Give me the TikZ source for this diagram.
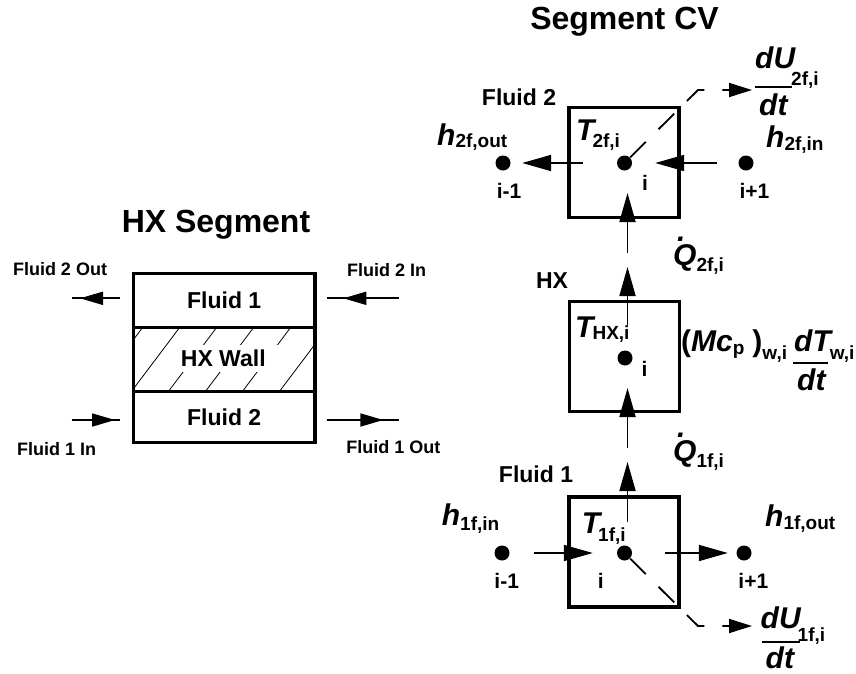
\documentclass[tikz,border=0pt]{standalone}
\usepackage{fontspec}
\setmainfont{Liberation Sans}
\usetikzlibrary{arrows.meta,calc}
\newcommand\mfont{\fontsize{30}{30}\selectfont\bfseries\itshape}
\newcommand\sbx[2]{\raisebox{-#1pt}{\fontsize{19}{19}\selectfont\bfseries\upshape #2}}
\newcommand\mvar[3][5]{{\mfont #2}\sbx{#1}{#3}}
\newcommand\qdot{\rlap{\kern4pt\raisebox{24pt}{.}}Q}
\begin{document}
\begin{tikzpicture}[x=1pt,y=-1pt,
  cvbox/.style={draw, line width=3.3pt, minimum width=110pt, minimum height=110pt, inner sep=0pt},
  hxbox/.style={draw, line width=3.3pt, minimum width=181.7pt, inner sep=0pt, font=\fontsize{23}{23}\selectfont\bfseries},
  dotn/.style={circle, fill=black, inner sep=0pt, minimum size=15pt},
  conn/.style={line width=1.8pt},
  arr/.style={conn, -{Triangle[length=29pt,width=16pt]}},
  larr/.style={conn, -{Triangle[length=23pt,width=13pt]}},
  darr/.style={conn, dash pattern=on 22pt off 18pt, dash phase=32pt, -{Triangle[length=23pt,width=14pt]}},
  hatch/.style={line width=0.8pt},
  fbar/.style={line width=1.8pt},
  lbl/.style={inner sep=0pt, font=\fontsize{23}{23}\selectfont\bfseries},
  slbl/.style={inner sep=0pt, font=\fontsize{18}{18}\selectfont\bfseries},
  ilbl/.style={inner sep=0pt, anchor=base, font=\fontsize{21}{21}\selectfont\bfseries},
  ttl/.style={inner sep=0pt, anchor=base, font=\fontsize{32}{32}\selectfont\bfseries},
  mlbl/.style={inner sep=0pt, anchor=base west}]
\useasboundingbox (0,0) rectangle (856,673);

% ---------------- HX Segment (left) ----------------
\node[ttl] (t1) at (216,232) {HX Segment};
\node[hxbox, minimum height=54pt] (lf1) at (224.2,300.3) {Fluid 1};
\node[hxbox, minimum height=64.4pt] (wall) at (224.2,359.5) {};
\node[hxbox, minimum height=51pt] (lf2) at (224.2,417.2) {Fluid 2};
\begin{scope}
  \clip ([shift={(1.65pt,1.65pt)}]wall.south west) rectangle ([shift={(-1.65pt,-1.65pt)}]wall.north east);
  \foreach \t in {106,143,...,365} \draw[hatch] (\t,327) -- ++(-49,65);
\end{scope}
\node[lbl, fill=white, inner xsep=12pt, inner ysep=5pt, anchor=base] (walltxt) at (223.3,366.7) {HX Wall};

\coordinate (tl1) at (120,298.3);  \coordinate (tl2) at (71.7,298.3);  \coordinate (tl3) at (80,298.3);
\coordinate (tr1) at (326.7,298.3);\coordinate (tr2) at (399,298.3);   \coordinate (tr3) at (343.3,298.3);
\coordinate (bl1) at (71.7,420);   \coordinate (bl2) at (120,420);     \coordinate (bl3) at (115,420);
\coordinate (br1) at (326.7,420);  \coordinate (br2) at (399,420);     \coordinate (br3) at (383.3,420);
\draw[conn] (tl1) -- (tl2); \draw[larr] (tl1) -- (tl3);
\draw[conn] (tr1) -- (tr2); \draw[larr] (tr2) -- (tr3);
\draw[conn] (bl1) -- (bl2); \draw[larr] (bl1) -- (bl3);
\draw[conn] (br1) -- (br2); \draw[larr] (br1) -- (br3);

\node[slbl, anchor=base] (f2out) at (60,275) {Fluid 2 Out};
\node[slbl, anchor=base] (f2in) at (386.7,276.7) {Fluid 2 In};
\node[slbl, anchor=base] (f1in) at (56.7,455) {Fluid 1 In};
\node[slbl, anchor=base] (f1out) at (393.3,453.3) {Fluid 1 Out};

% ---------------- Segment CV (right) ----------------
\node[ttl] (t2) at (624.5,29.5) {Segment CV};

\node[cvbox] (B2) at (624,162.5) {};
\node[cvbox] (BH) at (624.5,356.5) {};
\node[cvbox] (B1) at (624,552) {};

\node[dotn] (c2) at (624.5,163) {};
\node[dotn] (l2) at (503,163) {};
\node[dotn] (r2) at (746,163) {};
\node[dotn] (ch) at (625,358) {};
\node[dotn] (c1) at (624.5,553) {};
\node[dotn] (l1) at (502,553) {};
\node[dotn] (r1) at (744,553) {};

% horizontal flows
\draw[arr, shorten <=34pt, shorten >=11.5pt] (c2) -- (l2);
\draw[arr, shorten <=21.5pt, shorten >=23pt] (r2) -- (c2);
\draw[arr, shorten <=24pt, shorten >=24pt] (l1) -- (c1);
\draw[arr, shorten <=33pt, shorten >=8.5pt] (c1) -- (r1);

% vertical heat flows
\coordinate (q2s) at (627.5,253); \coordinate (q2t) at (627.5,193);
\coordinate (qhs) at (627.5,325); \coordinate (qht) at (627.5,267);
\coordinate (q1hs) at (627.5,448); \coordinate (q1ht) at (627.5,388);
\coordinate (q1s) at (627.5,522); \coordinate (q1t) at (627.5,462);
\draw[arr] (q2s) -- (q2t);
\draw[arr] (qhs) -- (qht);
\draw[arr] (q1hs) -- (q1ht);
\draw[arr] (q1s) -- (q1t);

% storage (dashed)
\coordinate (k2) at (698,90);  \coordinate (u2) at (752,90);
\coordinate (k1) at (698,626); \coordinate (u1) at (752,626);
\draw[darr] (c2.center) -- (k2) -- (u2);
\draw[darr] (c1.center) -- (k1) -- (u1);

% labels
\node[lbl, anchor=base] (F2l) at (519,105) {Fluid 2};
\node[lbl, anchor=base] (HXl) at (552,288) {HX};
\node[lbl, anchor=base] (F1l) at (536,482) {Fluid 1};

\node[mlbl] (h2out) at (437,145) {\mvar[2]{h}{2f,out}};
\node[mlbl] (T2) at (576,140) {\mvar[7]{T}{\kern-2pt 2f,i}};
\node[mlbl] (h2in) at (766,147) {\mvar[3]{h}{2f,in}};
\node[ilbl] (i2a) at (509,198) {i-1};
\node[ilbl] (i2b) at (645,190) {i};
\node[ilbl] (i2c) at (754.5,198) {i+1};

\node[mlbl] (dU2n) at (755,68.3) {\mvar[17]{dU}{\kern-4pt 2f,i}};
\draw[fbar] (755,86.7) -- (792,86.7);
\node[mlbl] (dU2d) at (759,115) {{\mfont dt}};

\node[mlbl] (Q2) at (673,265) {\mvar[6]{\qdot}{2f,i}};
\node[mlbl] (TH) at (575,337) {\mvar[2]{T}{\kern-1pt HX,i}};
\node[ilbl] (ihx) at (644.5,376.7) {i};
\node[mlbl] (mcp) at (681,351.7) {{\mfont\upshape(}{\mfont Mc}\sbx{3}{p}\kern8pt{\mfont\upshape)}\sbx{8}{w,i}};
\node[mlbl] (dTn) at (794,351.7) {\mvar[8]{dT}{\kern-1pt w,i}};
\draw[fbar] (793.3,363.3) -- (828.3,363.3);
\node[mlbl] (dTd) at (797,390) {{\mfont dt}};

\node[mlbl] (Q1) at (673,461.7) {\mvar[6]{\qdot}{1f,i}};
\node[mlbl] (h1in) at (441.7,525) {\mvar[5]{h}{1f,in}};
\node[mlbl] (T1) at (581.7,533.3) {\mvar[8]{T}{\kern-2pt 1f,i}};
\node[mlbl] (h1out) at (765,526.7) {\mvar[3]{h}{1f,out}};
\node[ilbl] (i1a) at (506.7,588) {i-1};
\node[ilbl] (i1b) at (600.7,588) {i};
\node[ilbl] (i1c) at (753.3,588) {i+1};

\node[mlbl] (dU1n) at (760.5,628.3) {\mvar[13]{dU}{\kern-3pt 1f,i}};
\draw[fbar] (761.7,641.7) -- (800,641.7);
\node[mlbl] (dU1d) at (765.5,668) {{\mfont dt}};
\end{tikzpicture}
\end{document}
